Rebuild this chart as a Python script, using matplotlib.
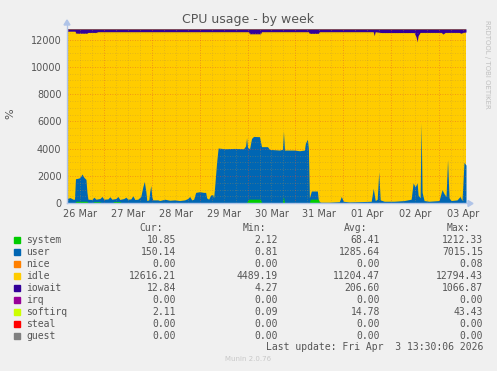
import matplotlib
matplotlib.use("Agg")
import matplotlib.pyplot as plt
import numpy as np

# time axis: hours since 26 Mar 00:00
day_labels = ["26 Mar", "27 Mar", "28 Mar", "29 Mar", "30 Mar", "31 Mar", "01 Apr", "02 Apr", "03 Apr"]
t_start, t_end = 5.5, 205.5
total_cpu = 12800  # 128 cpus * 100%

# top edge of system+user (blue)
user_h = [5.5, 7, 8.5, 9.25, 9.75, 11.5, 12.5, 13, 14, 15, 15.5, 16, 18, 19, 20, 22, 23, 24, 26, 27,
          28, 30, 31, 32, 34, 35, 36, 37.5, 38.5, 39.5, 41, 42.5, 43.5, 44.25, 45, 45.5, 46.5, 47, 47.5, 48,
          48.5, 51, 52, 54.5, 57, 59.5, 62, 64.5, 66, 67, 68, 69, 70, 72, 74, 75, 75.5, 76.5, 77.5, 78.5,
          79, 79.5, 80.5, 81.25, 84.5, 89.5, 94, 95, 95.5, 96, 97, 98, 99, 102, 103, 106, 107, 112, 113.5, 114,
          114.5, 119.5, 122, 124.5, 125, 126, 126.5, 127, 128, 131, 131.5, 132.5, 137, 139.5, 142, 143, 144, 147, 152, 158,
          159, 160, 161, 161.75, 162.5, 164.5, 169.5, 174.5, 178, 179, 180, 181, 181.5, 182.5, 183, 183.5, 184.5, 187, 192, 193.5,
          194.5, 195.5, 196.25, 197, 198, 201, 202.5, 203.5, 204.5, 205.5]
user_v = [350, 420, 300, 300, 1800, 1850, 2000, 2150, 1900, 1750, 800, 300, 280, 450, 300, 350, 500, 300, 320, 480,
          300, 350, 500, 280, 350, 450, 300, 320, 550, 280, 300, 500, 1200, 1600, 900, 200, 250, 900, 1300, 500,
          250, 250, 200, 300, 220, 250, 200, 250, 350, 500, 250, 300, 800, 850, 800, 800, 400, 300, 600, 650,
          400, 1200, 3000, 4050, 4000, 4020, 4000, 4200, 4800, 4100, 4000, 4750, 4900, 4880, 4150, 4150, 3950, 3900, 3950, 5300,
          3900, 3900, 3850, 3900, 4400, 4700, 4000, 400, 900, 900, 200, 80, 80, 100, 120, 500, 150, 100, 120, 150,
          1100, 200, 300, 2300, 250, 150, 150, 200, 300, 1500, 1200, 1500, 600, 400, 5900, 800, 200, 150, 200, 1000,
          700, 500, 3200, 400, 200, 250, 500, 200, 3000, 2800]

system_h = [5.5, 9.5, 10, 15.5, 16, 18.5, 19, 22, 22.5, 28.5, 29, 32, 32.5, 95.5, 96.5, 102.5, 103, 113.5, 114, 114.5,
            127, 127.5, 131.5, 132, 205.5]
system_v = [60, 60, 150, 150, 60, 60, 120, 120, 60, 60, 130, 130, 60, 60, 300, 300, 60, 60, 500, 60,
            60, 300, 300, 40, 50]

iowait_h = [5.5, 9.5, 10, 15.5, 16, 20, 21, 96.5, 97, 102.5, 103, 126.5, 127, 131.5, 132, 159, 159.5, 160, 163, 179.5,
            180.5, 181, 181.5, 182.5, 193, 194, 195, 202, 203, 204, 205.5]
iowait_v = [170, 170, 320, 320, 260, 260, 210, 210, 360, 360, 210, 210, 330, 330, 210, 210, 500, 210, 270, 270,
            600, 950, 500, 260, 260, 380, 260, 260, 320, 260, 230]

softirq_v = 20

names = ["system", "user", "nice", "idle", "iowait", "irq", "softirq", "steal", "guest"]
colors = ["#00CC00", "#0066B3", "#FF8000", "#FFCC00", "#330099", "#990099", "#CCFF00", "#FF0000", "#808080"]
cur = ["10.85", "150.14", "0.00", "12616.21", "12.84", "0.00", "2.11", "0.00", "0.00"]
mins = ["2.12", "0.81", "0.00", "4489.19", "4.27", "0.00", "0.09", "0.00", "0.00"]
avgs = ["68.41", "1285.64", "0.00", "11204.47", "206.60", "0.00", "14.78", "0.00", "0.00"]
maxs = ["1212.33", "7015.15", "0.08", "12794.43", "1066.87", "0.00", "43.43", "0.00", "0.00"]

W, H = 497, 371
fig = plt.figure(figsize=(W / 100, H / 100), dpi=100, facecolor="#F0F0F0")


def fx(px):
    return px / W


def fy(py):
    return 1 - py / H


ax = fig.add_axes([fx(67), fy(203.3), (466 - 67) / W, (203.3 - 28.6) / H])
ax.set_facecolor("white")
ax.set_xlim(t_start, t_end)
ax.set_ylim(0, total_cpu)

top_io = total_cpu - softirq_v
ax.fill_between([t_start, t_end], 0, [top_io, top_io], color=colors[3], lw=0, zorder=1)
ax.fill_between(user_h, 0, user_v, color=colors[1], lw=0, zorder=2)
ax.fill_between(system_h, 0, system_v, color=colors[0], lw=0, zorder=3)
ax.fill_between(iowait_h, top_io - np.array(iowait_v), top_io, color=colors[4], lw=0, zorder=3)
ax.fill_between([t_start, t_end], top_io, total_cpu, color=colors[6], lw=0, zorder=3)

# grid
for h in np.arange(6, t_end, 6):
    major = h % 24 == 0
    ax.axvline(h, color="#E05030" if major else "#B89040", ls=(0, (1, 2)), lw=0.6,
               alpha=0.6 if major else 0.45, zorder=4)
for v in np.arange(500, total_cpu, 500):
    major = v % 2000 == 0
    ax.axhline(v, color="#E05030" if major else "#B89040", ls=(0, (1, 2)), lw=0.6,
               alpha=0.6 if major else 0.45, zorder=4)

for s in ax.spines.values():
    s.set_visible(False)
ax.set_xticks([12 + 24 * i for i in range(len(day_labels))])
ax.set_xticklabels(day_labels)
ax.set_yticks(np.arange(0, 12001, 2000))
ax.tick_params(length=0, labelsize=7, colors="#555555", pad=4)
fig.text(fx(10), fy(114), "%", rotation=90, ha="center", va="center", fontsize=8, color="#555555")

# axis lines with arrows
fig.add_artist(plt.Line2D([fx(67), fx(469)], [fy(203.5), fy(203.5)], color="#B0C4E8", lw=1))
fig.add_artist(plt.Line2D([fx(67), fx(67)], [fy(203.5), fy(24)], color="#B0C4E8", lw=1))
fig.add_artist(plt.Polygon([[fx(468), fy(200.5)], [fx(473), fy(203.5)], [fx(468), fy(206.5)]], color="#B0C4E8"))
fig.add_artist(plt.Polygon([[fx(64), fy(25)], [fx(67), fy(20)], [fx(70), fy(25)]], color="#B0C4E8"))

fig.text(fx(248), fy(19), "CPU usage - by week", ha="center", va="center", fontsize=9, color="#555555")
fig.text(fx(487), fy(64), "RRDTOOL / TOBI OETIKER", rotation=270, ha="center", va="center",
         fontsize=5, color="#C0C0C0")

mono = "DejaVu Sans Mono"
fs = 7
row_y = [240 + 11.95 * i for i in range(len(names))]
for x, lab in [(163, "Cur:"), (266, "Min:"), (367, "Avg:"), (470, "Max:")]:
    fig.text(fx(x), fy(228), lab, ha="right", va="center", fontsize=fs, family=mono, color="#555555")
for i, n in enumerate(names):
    y = row_y[i]
    fig.add_artist(plt.Rectangle((fx(14), fy(y + 3)), 6 / W, 6 / H, color=colors[i]))
    fig.text(fx(26), fy(y), n, ha="left", va="center", fontsize=fs, family=mono, color="#555555")
    for x, col in [(176, cur), (278, mins), (380, avgs), (483, maxs)]:
        fig.text(fx(x), fy(y), col[i], ha="right", va="center", fontsize=fs, family=mono, color="#555555")
fig.text(fx(483), fy(347), "Last update: Fri Apr  3 13:30:06 2026", ha="right", va="center",
         fontsize=fs, family=mono, color="#555555")
fig.text(fx(248), fy(359), "Munin 2.0.76", ha="center", va="center", fontsize=5, color="#C8C8C8")

fig.savefig("out.png", dpi=100, facecolor=fig.get_facecolor())
